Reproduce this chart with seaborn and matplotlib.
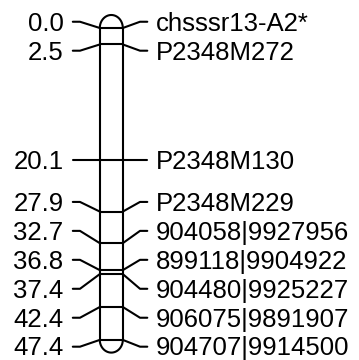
import numpy as np
import pandas as pd
import matplotlib
matplotlib.use("Agg")
import matplotlib.pyplot as plt
import seaborn as sns

# ---- data ----
positions_cm = [0.0, 2.5, 20.1, 27.9, 32.7, 36.8, 37.4, 42.4, 47.4]
position_labels = ["0.0", "2.5", "20.1", "27.9", "32.7", "36.8", "37.4", "42.4", "47.4"]
marker_names = ["chsssr13-A2*", "P2348M272", "P2348M130", "P2348M229",
                "904058|9927956", "899118|9904922", "904480|9925227",
                "906075|9891907", "904707|9914500"]

sns.set_theme(style="white")
plt.rcParams["font.family"] = ["Liberation Sans", "DejaVu Sans"]

W, H = 359, 360
fig = plt.figure(figsize=(W / 100, H / 100), dpi=100)
ax = fig.add_axes([0, 0, 1, 1])
ax.set_axis_off()

# vertical mapping: pixel y = top + scale * cM
top_px, scale = 28.0, 6.58
ax.set_xlim(0, W)
ax.set_ylim((H - top_px) / scale, -top_px / scale)


def spread(vals, d):
    clusters = [[v] for v in vals]
    changed = True
    while changed:
        changed = False
        starts = [np.mean(c) - (len(c) - 1) * d / 2 for c in clusters]
        for i in range(len(clusters) - 1):
            if starts[i + 1] < starts[i] + len(clusters[i]) * d - 1e-9:
                clusters[i] = clusters[i] + clusters[i + 1]
                del clusters[i + 1]
                changed = True
                break
    out = []
    for c in clusters:
        s = np.mean(c) - (len(c) - 1) * d / 2
        out += [s + k * d for k in range(len(c))]
    return out


label_y = spread(positions_cm, 4.4)

xl, xr = 99.8, 122.8
lw = 1.5

# connectors via seaborn
rows = []
for i, (m, ly) in enumerate(zip(positions_cm, label_y)):
    for x, y in [(72.8, ly), (80.0, ly), (xl, m)]:
        rows.append(dict(unit=f"L{i}", x=x, y=y))
    for x, y in [(xr, m), (140.0, ly), (147.3, ly)]:
        rows.append(dict(unit=f"R{i}", x=x, y=y))
df = pd.DataFrame(rows)
sns.lineplot(data=df, x="x", y="y", units="unit", estimator=None, sort=False,
             color="black", lw=lw, ax=ax, legend=False)

# chromosome body
lo, hi = min(positions_cm), max(positions_cm)
ax.plot([xl, xl], [lo, hi], color="black", lw=lw, solid_capstyle="butt")
ax.plot([xr, xr], [lo, hi], color="black", lw=lw, solid_capstyle="butt")
for m in positions_cm:
    ax.plot([xl, xr], [m, m], color="black", lw=lw, solid_capstyle="butt")

cx = (xl + xr) / 2
rx = (xr - xl) / 2
t = np.linspace(0, np.pi, 60)
cap_top = 13.0 / scale
cap_bot = 12.7 / scale
ax.plot(cx - rx * np.cos(t), lo - cap_top * np.sin(t), color="black", lw=lw)
ax.plot(cx - rx * np.cos(t), hi + cap_bot * np.sin(t), color="black", lw=lw)

# labels
fs = 18.5
off = 8.8 / scale
for lab, name, ly in zip(position_labels, marker_names, label_y):
    ax.text(63.5, ly + off, lab, ha="right", va="baseline", fontsize=fs, color="black")
    ax.text(156.0, ly + off, name, ha="left", va="baseline", fontsize=fs, color="black")

fig.savefig("out.png", dpi=100)
